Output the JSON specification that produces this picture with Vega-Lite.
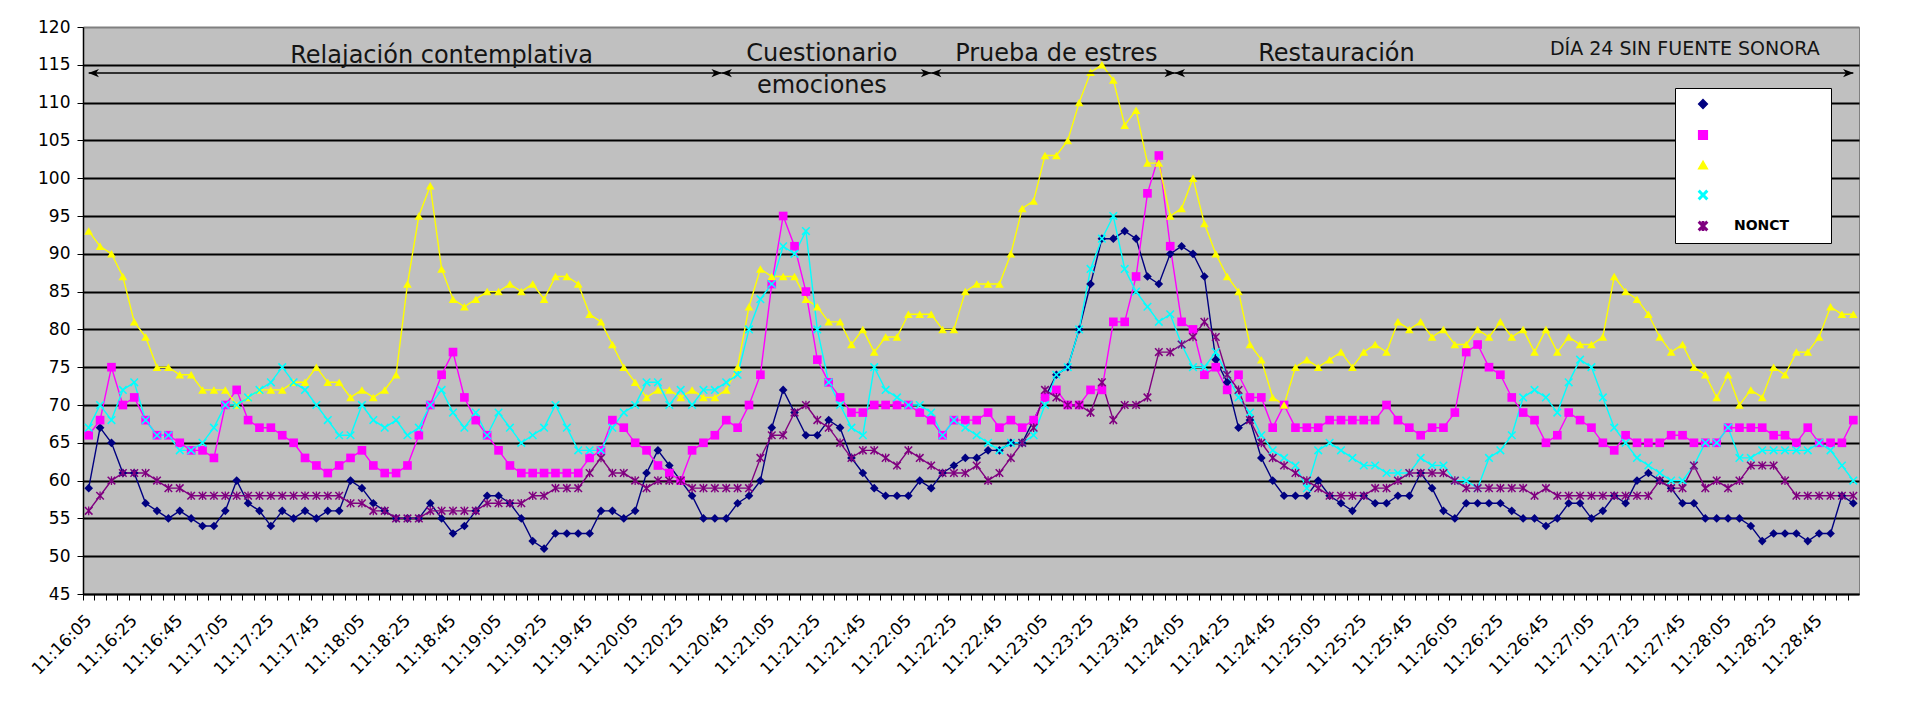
{
  "$schema": "https://vega.github.io/schema/vega-lite/v6.json",
  "width": 1776,
  "height": 567,
  "autosize": {"type": "none"},
  "padding": {"left": 83, "top": 27, "right": 68, "bottom": 109},
  "background": "white",
  "config": {
    "font": "DejaVu Sans",
    "view": {"fill": "#C0C0C0", "stroke": "#808080", "strokeWidth": 1}
  },
  "layer": [
    {
      "data": {
        "format": {"parse": {"time": "date:'%H:%M:%S'"}},
        "values": [
          {"time":"11:16:05","Serie1":59,"Serie2":66,"Serie3":93,"Serie4":67,"NONCT":56},
          {"time":"11:16:10","Serie1":67,"Serie2":68,"Serie3":91,"Serie4":70,"NONCT":58},
          {"time":"11:16:15","Serie1":65,"Serie2":75,"Serie3":90,"Serie4":68,"NONCT":60},
          {"time":"11:16:20","Serie1":61,"Serie2":70,"Serie3":87,"Serie4":72,"NONCT":61},
          {"time":"11:16:25","Serie1":61,"Serie2":71,"Serie3":81,"Serie4":73,"NONCT":61},
          {"time":"11:16:30","Serie1":57,"Serie2":68,"Serie3":79,"Serie4":68,"NONCT":61},
          {"time":"11:16:35","Serie1":56,"Serie2":66,"Serie3":75,"Serie4":66,"NONCT":60},
          {"time":"11:16:40","Serie1":55,"Serie2":66,"Serie3":75,"Serie4":66,"NONCT":59},
          {"time":"11:16:45","Serie1":56,"Serie2":65,"Serie3":74,"Serie4":64,"NONCT":59},
          {"time":"11:16:50","Serie1":55,"Serie2":64,"Serie3":74,"Serie4":64,"NONCT":58},
          {"time":"11:16:55","Serie1":54,"Serie2":64,"Serie3":72,"Serie4":65,"NONCT":58},
          {"time":"11:17:00","Serie1":54,"Serie2":63,"Serie3":72,"Serie4":67,"NONCT":58},
          {"time":"11:17:05","Serie1":56,"Serie2":70,"Serie3":72,"Serie4":70,"NONCT":58},
          {"time":"11:17:10","Serie1":60,"Serie2":72,"Serie3":70,"Serie4":70,"NONCT":58},
          {"time":"11:17:15","Serie1":57,"Serie2":68,"Serie3":71,"Serie4":71,"NONCT":58},
          {"time":"11:17:20","Serie1":56,"Serie2":67,"Serie3":72,"Serie4":72,"NONCT":58},
          {"time":"11:17:25","Serie1":54,"Serie2":67,"Serie3":72,"Serie4":73,"NONCT":58},
          {"time":"11:17:30","Serie1":56,"Serie2":66,"Serie3":72,"Serie4":75,"NONCT":58},
          {"time":"11:17:35","Serie1":55,"Serie2":65,"Serie3":73,"Serie4":73,"NONCT":58},
          {"time":"11:17:40","Serie1":56,"Serie2":63,"Serie3":73,"Serie4":72,"NONCT":58},
          {"time":"11:17:45","Serie1":55,"Serie2":62,"Serie3":75,"Serie4":70,"NONCT":58},
          {"time":"11:17:50","Serie1":56,"Serie2":61,"Serie3":73,"Serie4":68,"NONCT":58},
          {"time":"11:17:55","Serie1":56,"Serie2":62,"Serie3":73,"Serie4":66,"NONCT":58},
          {"time":"11:18:00","Serie1":60,"Serie2":63,"Serie3":71,"Serie4":66,"NONCT":57},
          {"time":"11:18:05","Serie1":59,"Serie2":64,"Serie3":72,"Serie4":70,"NONCT":57},
          {"time":"11:18:10","Serie1":57,"Serie2":62,"Serie3":71,"Serie4":68,"NONCT":56},
          {"time":"11:18:15","Serie1":56,"Serie2":61,"Serie3":72,"Serie4":67,"NONCT":56},
          {"time":"11:18:20","Serie1":55,"Serie2":61,"Serie3":74,"Serie4":68,"NONCT":55},
          {"time":"11:18:25","Serie1":55,"Serie2":62,"Serie3":86,"Serie4":66,"NONCT":55},
          {"time":"11:18:30","Serie1":55,"Serie2":66,"Serie3":95,"Serie4":67,"NONCT":55},
          {"time":"11:18:35","Serie1":57,"Serie2":70,"Serie3":99,"Serie4":70,"NONCT":56},
          {"time":"11:18:40","Serie1":55,"Serie2":74,"Serie3":88,"Serie4":72,"NONCT":56},
          {"time":"11:18:45","Serie1":53,"Serie2":77,"Serie3":84,"Serie4":69,"NONCT":56},
          {"time":"11:18:50","Serie1":54,"Serie2":71,"Serie3":83,"Serie4":67,"NONCT":56},
          {"time":"11:18:55","Serie1":56,"Serie2":68,"Serie3":84,"Serie4":69,"NONCT":56},
          {"time":"11:19:00","Serie1":58,"Serie2":66,"Serie3":85,"Serie4":66,"NONCT":57},
          {"time":"11:19:05","Serie1":58,"Serie2":64,"Serie3":85,"Serie4":69,"NONCT":57},
          {"time":"11:19:10","Serie1":57,"Serie2":62,"Serie3":86,"Serie4":67,"NONCT":57},
          {"time":"11:19:15","Serie1":55,"Serie2":61,"Serie3":85,"Serie4":65,"NONCT":57},
          {"time":"11:19:20","Serie1":52,"Serie2":61,"Serie3":86,"Serie4":66,"NONCT":58},
          {"time":"11:19:25","Serie1":51,"Serie2":61,"Serie3":84,"Serie4":67,"NONCT":58},
          {"time":"11:19:30","Serie1":53,"Serie2":61,"Serie3":87,"Serie4":70,"NONCT":59},
          {"time":"11:19:35","Serie1":53,"Serie2":61,"Serie3":87,"Serie4":67,"NONCT":59},
          {"time":"11:19:40","Serie1":53,"Serie2":61,"Serie3":86,"Serie4":64,"NONCT":59},
          {"time":"11:19:45","Serie1":53,"Serie2":63,"Serie3":82,"Serie4":64,"NONCT":61},
          {"time":"11:19:50","Serie1":56,"Serie2":64,"Serie3":81,"Serie4":64,"NONCT":63},
          {"time":"11:19:55","Serie1":56,"Serie2":68,"Serie3":78,"Serie4":67,"NONCT":61},
          {"time":"11:20:00","Serie1":55,"Serie2":67,"Serie3":75,"Serie4":69,"NONCT":61},
          {"time":"11:20:05","Serie1":56,"Serie2":65,"Serie3":73,"Serie4":70,"NONCT":60},
          {"time":"11:20:10","Serie1":61,"Serie2":64,"Serie3":71,"Serie4":73,"NONCT":59},
          {"time":"11:20:15","Serie1":64,"Serie2":62,"Serie3":72,"Serie4":73,"NONCT":60},
          {"time":"11:20:20","Serie1":62,"Serie2":61,"Serie3":72,"Serie4":70,"NONCT":60},
          {"time":"11:20:25","Serie1":60,"Serie2":60,"Serie3":71,"Serie4":72,"NONCT":60},
          {"time":"11:20:30","Serie1":58,"Serie2":64,"Serie3":72,"Serie4":70,"NONCT":59},
          {"time":"11:20:35","Serie1":55,"Serie2":65,"Serie3":71,"Serie4":72,"NONCT":59},
          {"time":"11:20:40","Serie1":55,"Serie2":66,"Serie3":71,"Serie4":72,"NONCT":59},
          {"time":"11:20:45","Serie1":55,"Serie2":68,"Serie3":72,"Serie4":73,"NONCT":59},
          {"time":"11:20:50","Serie1":57,"Serie2":67,"Serie3":75,"Serie4":74,"NONCT":59},
          {"time":"11:20:55","Serie1":58,"Serie2":70,"Serie3":83,"Serie4":80,"NONCT":59},
          {"time":"11:21:00","Serie1":60,"Serie2":74,"Serie3":88,"Serie4":84,"NONCT":63},
          {"time":"11:21:05","Serie1":67,"Serie2":86,"Serie3":87,"Serie4":86,"NONCT":66},
          {"time":"11:21:10","Serie1":72,"Serie2":95,"Serie3":87,"Serie4":91,"NONCT":66},
          {"time":"11:21:15","Serie1":69,"Serie2":91,"Serie3":87,"Serie4":90,"NONCT":69},
          {"time":"11:21:20","Serie1":66,"Serie2":85,"Serie3":84,"Serie4":93,"NONCT":70},
          {"time":"11:21:25","Serie1":66,"Serie2":76,"Serie3":83,"Serie4":80,"NONCT":68},
          {"time":"11:21:30","Serie1":68,"Serie2":73,"Serie3":81,"Serie4":73,"NONCT":67},
          {"time":"11:21:35","Serie1":67,"Serie2":71,"Serie3":81,"Serie4":70,"NONCT":65},
          {"time":"11:21:40","Serie1":63,"Serie2":69,"Serie3":78,"Serie4":67,"NONCT":63},
          {"time":"11:21:45","Serie1":61,"Serie2":69,"Serie3":80,"Serie4":66,"NONCT":64},
          {"time":"11:21:50","Serie1":59,"Serie2":70,"Serie3":77,"Serie4":75,"NONCT":64},
          {"time":"11:21:55","Serie1":58,"Serie2":70,"Serie3":79,"Serie4":72,"NONCT":63},
          {"time":"11:22:00","Serie1":58,"Serie2":70,"Serie3":79,"Serie4":71,"NONCT":62},
          {"time":"11:22:05","Serie1":58,"Serie2":70,"Serie3":82,"Serie4":70,"NONCT":64},
          {"time":"11:22:10","Serie1":60,"Serie2":69,"Serie3":82,"Serie4":70,"NONCT":63},
          {"time":"11:22:15","Serie1":59,"Serie2":68,"Serie3":82,"Serie4":69,"NONCT":62},
          {"time":"11:22:20","Serie1":61,"Serie2":66,"Serie3":80,"Serie4":66,"NONCT":61},
          {"time":"11:22:25","Serie1":62,"Serie2":68,"Serie3":80,"Serie4":68,"NONCT":61},
          {"time":"11:22:30","Serie1":63,"Serie2":68,"Serie3":85,"Serie4":67,"NONCT":61},
          {"time":"11:22:35","Serie1":63,"Serie2":68,"Serie3":86,"Serie4":66,"NONCT":62},
          {"time":"11:22:40","Serie1":64,"Serie2":69,"Serie3":86,"Serie4":65,"NONCT":60},
          {"time":"11:22:45","Serie1":64,"Serie2":67,"Serie3":86,"Serie4":64,"NONCT":61},
          {"time":"11:22:50","Serie1":65,"Serie2":68,"Serie3":90,"Serie4":65,"NONCT":63},
          {"time":"11:22:55","Serie1":65,"Serie2":67,"Serie3":96,"Serie4":65,"NONCT":65},
          {"time":"11:23:00","Serie1":68,"Serie2":68,"Serie3":97,"Serie4":66,"NONCT":67},
          {"time":"11:23:05","Serie1":71,"Serie2":71,"Serie3":103,"Serie4":70,"NONCT":72},
          {"time":"11:23:10","Serie1":74,"Serie2":72,"Serie3":103,"Serie4":74,"NONCT":71},
          {"time":"11:23:15","Serie1":75,"Serie2":70,"Serie3":105,"Serie4":75,"NONCT":70},
          {"time":"11:23:20","Serie1":80,"Serie2":70,"Serie3":110,"Serie4":80,"NONCT":70},
          {"time":"11:23:25","Serie1":86,"Serie2":72,"Serie3":114,"Serie4":88,"NONCT":69},
          {"time":"11:23:30","Serie1":92,"Serie2":72,"Serie3":115,"Serie4":92,"NONCT":73},
          {"time":"11:23:35","Serie1":92,"Serie2":81,"Serie3":113,"Serie4":95,"NONCT":68},
          {"time":"11:23:40","Serie1":93,"Serie2":81,"Serie3":107,"Serie4":88,"NONCT":70},
          {"time":"11:23:45","Serie1":92,"Serie2":87,"Serie3":109,"Serie4":85,"NONCT":70},
          {"time":"11:23:50","Serie1":87,"Serie2":98,"Serie3":102,"Serie4":83,"NONCT":71},
          {"time":"11:23:55","Serie1":86,"Serie2":103,"Serie3":102,"Serie4":81,"NONCT":77},
          {"time":"11:24:00","Serie1":90,"Serie2":91,"Serie3":95,"Serie4":82,"NONCT":77},
          {"time":"11:24:05","Serie1":91,"Serie2":81,"Serie3":96,"Serie4":78,"NONCT":78},
          {"time":"11:24:10","Serie1":90,"Serie2":80,"Serie3":100,"Serie4":75,"NONCT":79},
          {"time":"11:24:15","Serie1":87,"Serie2":74,"Serie3":94,"Serie4":75,"NONCT":81},
          {"time":"11:24:20","Serie1":76,"Serie2":75,"Serie3":90,"Serie4":77,"NONCT":79},
          {"time":"11:24:25","Serie1":73,"Serie2":72,"Serie3":87,"Serie4":74,"NONCT":74},
          {"time":"11:24:30","Serie1":67,"Serie2":74,"Serie3":85,"Serie4":71,"NONCT":72},
          {"time":"11:24:35","Serie1":68,"Serie2":71,"Serie3":78,"Serie4":69,"NONCT":68},
          {"time":"11:24:40","Serie1":63,"Serie2":71,"Serie3":76,"Serie4":66,"NONCT":65},
          {"time":"11:24:45","Serie1":60,"Serie2":67,"Serie3":71,"Serie4":64,"NONCT":63},
          {"time":"11:24:50","Serie1":58,"Serie2":70,"Serie3":70,"Serie4":63,"NONCT":62},
          {"time":"11:24:55","Serie1":58,"Serie2":67,"Serie3":75,"Serie4":62,"NONCT":61},
          {"time":"11:25:00","Serie1":58,"Serie2":67,"Serie3":76,"Serie4":59,"NONCT":60},
          {"time":"11:25:05","Serie1":60,"Serie2":67,"Serie3":75,"Serie4":64,"NONCT":59},
          {"time":"11:25:10","Serie1":58,"Serie2":68,"Serie3":76,"Serie4":65,"NONCT":58},
          {"time":"11:25:15","Serie1":57,"Serie2":68,"Serie3":77,"Serie4":64,"NONCT":58},
          {"time":"11:25:20","Serie1":56,"Serie2":68,"Serie3":75,"Serie4":63,"NONCT":58},
          {"time":"11:25:25","Serie1":58,"Serie2":68,"Serie3":77,"Serie4":62,"NONCT":58},
          {"time":"11:25:30","Serie1":57,"Serie2":68,"Serie3":78,"Serie4":62,"NONCT":59},
          {"time":"11:25:35","Serie1":57,"Serie2":70,"Serie3":77,"Serie4":61,"NONCT":59},
          {"time":"11:25:40","Serie1":58,"Serie2":68,"Serie3":81,"Serie4":61,"NONCT":60},
          {"time":"11:25:45","Serie1":58,"Serie2":67,"Serie3":80,"Serie4":61,"NONCT":61},
          {"time":"11:25:50","Serie1":61,"Serie2":66,"Serie3":81,"Serie4":63,"NONCT":61},
          {"time":"11:25:55","Serie1":59,"Serie2":67,"Serie3":79,"Serie4":62,"NONCT":61},
          {"time":"11:26:00","Serie1":56,"Serie2":67,"Serie3":80,"Serie4":62,"NONCT":61},
          {"time":"11:26:05","Serie1":55,"Serie2":69,"Serie3":78,"Serie4":60,"NONCT":60},
          {"time":"11:26:10","Serie1":57,"Serie2":77,"Serie3":78,"Serie4":60,"NONCT":59},
          {"time":"11:26:15","Serie1":57,"Serie2":78,"Serie3":80,"Serie4":59,"NONCT":59},
          {"time":"11:26:20","Serie1":57,"Serie2":75,"Serie3":79,"Serie4":63,"NONCT":59},
          {"time":"11:26:25","Serie1":57,"Serie2":74,"Serie3":81,"Serie4":64,"NONCT":59},
          {"time":"11:26:30","Serie1":56,"Serie2":71,"Serie3":79,"Serie4":66,"NONCT":59},
          {"time":"11:26:35","Serie1":55,"Serie2":69,"Serie3":80,"Serie4":71,"NONCT":59},
          {"time":"11:26:40","Serie1":55,"Serie2":68,"Serie3":77,"Serie4":72,"NONCT":58},
          {"time":"11:26:45","Serie1":54,"Serie2":65,"Serie3":80,"Serie4":71,"NONCT":59},
          {"time":"11:26:50","Serie1":55,"Serie2":66,"Serie3":77,"Serie4":69,"NONCT":58},
          {"time":"11:26:55","Serie1":57,"Serie2":69,"Serie3":79,"Serie4":73,"NONCT":58},
          {"time":"11:27:00","Serie1":57,"Serie2":68,"Serie3":78,"Serie4":76,"NONCT":58},
          {"time":"11:27:05","Serie1":55,"Serie2":67,"Serie3":78,"Serie4":75,"NONCT":58},
          {"time":"11:27:10","Serie1":56,"Serie2":65,"Serie3":79,"Serie4":71,"NONCT":58},
          {"time":"11:27:15","Serie1":58,"Serie2":64,"Serie3":87,"Serie4":67,"NONCT":58},
          {"time":"11:27:20","Serie1":57,"Serie2":66,"Serie3":85,"Serie4":65,"NONCT":58},
          {"time":"11:27:25","Serie1":60,"Serie2":65,"Serie3":84,"Serie4":63,"NONCT":58},
          {"time":"11:27:30","Serie1":61,"Serie2":65,"Serie3":82,"Serie4":62,"NONCT":58},
          {"time":"11:27:35","Serie1":60,"Serie2":65,"Serie3":79,"Serie4":61,"NONCT":60},
          {"time":"11:27:40","Serie1":59,"Serie2":66,"Serie3":77,"Serie4":60,"NONCT":59},
          {"time":"11:27:45","Serie1":57,"Serie2":66,"Serie3":78,"Serie4":60,"NONCT":59},
          {"time":"11:27:50","Serie1":57,"Serie2":65,"Serie3":75,"Serie4":62,"NONCT":62},
          {"time":"11:27:55","Serie1":55,"Serie2":65,"Serie3":74,"Serie4":65,"NONCT":59},
          {"time":"11:28:00","Serie1":55,"Serie2":65,"Serie3":71,"Serie4":65,"NONCT":60},
          {"time":"11:28:05","Serie1":55,"Serie2":67,"Serie3":74,"Serie4":67,"NONCT":59},
          {"time":"11:28:10","Serie1":55,"Serie2":67,"Serie3":70,"Serie4":63,"NONCT":60},
          {"time":"11:28:15","Serie1":54,"Serie2":67,"Serie3":72,"Serie4":63,"NONCT":62},
          {"time":"11:28:20","Serie1":52,"Serie2":67,"Serie3":71,"Serie4":64,"NONCT":62},
          {"time":"11:28:25","Serie1":53,"Serie2":66,"Serie3":75,"Serie4":64,"NONCT":62},
          {"time":"11:28:30","Serie1":53,"Serie2":66,"Serie3":74,"Serie4":64,"NONCT":60},
          {"time":"11:28:35","Serie1":53,"Serie2":65,"Serie3":77,"Serie4":64,"NONCT":58},
          {"time":"11:28:40","Serie1":52,"Serie2":67,"Serie3":77,"Serie4":64,"NONCT":58},
          {"time":"11:28:45","Serie1":53,"Serie2":65,"Serie3":79,"Serie4":65,"NONCT":58},
          {"time":"11:28:50","Serie1":53,"Serie2":65,"Serie3":83,"Serie4":64,"NONCT":58},
          {"time":"11:28:55","Serie1":58,"Serie2":65,"Serie3":82,"Serie4":62,"NONCT":58},
          {"time":"11:29:00","Serie1":57,"Serie2":68,"Serie3":82,"Serie4":60,"NONCT":58}
        ]
      },
      "transform": [{"fold": ["Serie1", "Serie2", "Serie3", "Serie4", "NONCT"], "as": ["serie", "bpm"]}],
      "encoding": {
        "x": {
          "field": "time",
          "type": "temporal",
          "title": null,
          "scale": {"nice": false, "padding": 5.7},
          "axis": {
            "title": null,
            "grid": false,
            "tickCount": 160,
            "labelExpr": "seconds(datum.value) % 20 == 5 ? timeFormat(datum.value, '%H:%M:%S') : ''",
            "labelAngle": -45,
            "labelOverlap": false,
            "labelFlush": false,
            "labelBound": false,
            "tickSize": 6,
            "tickColor": "black",
            "tickOffset": -5.69,
            "domainColor": "black",
            "domainWidth": 1.5,
            "labelFont": "DejaVu Sans",
            "labelFontSize": 17,
            "labelColor": "black",
            "labelPadding": 12
          }
        },
        "y": {
          "field": "bpm",
          "type": "quantitative",
          "title": null,
          "scale": {"domain": [45, 120], "nice": false, "zero": false},
          "axis": {
            "title": null,
            "values": [45, 50, 55, 60, 65, 70, 75, 80, 85, 90, 95, 100, 105, 110, 115, 120],
            "tickCount": 30,
            "labelOverlap": false,
            "grid": true,
            "gridColor": {"condition": {"test": "datum.value >= 120", "value": "#808080"}, "value": "black"},
            "gridWidth": 2,
            "tickSize": 6,
            "tickColor": "black",
            "domainColor": "black",
            "domainWidth": 1.5,
            "labelFont": "DejaVu Sans",
            "labelFontSize": 17,
            "labelColor": "black",
            "labelPadding": 7
          }
        },
        "color": {
          "field": "serie",
          "type": "nominal",
          "title": null,
          "scale": {
            "domain": ["Serie1", "Serie2", "Serie3", "Serie4", "NONCT"],
            "range": ["#000080", "#FF00FF", "#FFFF00", "#00FFFF", "#800080"]
          },
          "legend": {
            "orient": "none",
            "legendX": 1592,
            "legendY": 61,
            "title": null,
            "fillColor": "white",
            "strokeColor": "black",
            "padding": 9,
            "rowPadding": 15,
            "symbolSize": 75,
            "symbolOffset": 12,
            "labelOffset": 24,
            "labelFont": "DejaVu Sans",
            "labelFontSize": 14,
            "labelFontWeight": "bold",
            "labelColor": "black",
            "labelExpr": "datum.label == 'NONCT' ? 'NONCT\u2800\u2800\u2800' : ''"
          }
        }
      },
      "layer": [
        {"mark": {"type": "line", "strokeWidth": 1.4}},
        {
          "mark": {"type": "point", "filled": true, "size": 75, "opacity": 1},
          "encoding": {
            "shape": {
              "field": "serie",
              "type": "nominal",
              "title": null,
              "scale": {
                "domain": ["Serie1", "Serie2", "Serie3", "Serie4", "NONCT"],
                "range": [
                  "diamond",
                  "square",
                  "triangle-up",
                  "M-1,-0.75L-0.75,-1L0,-0.25L0.75,-1L1,-0.75L0.25,0L1,0.75L0.75,1L0,0.25L-0.75,1L-1,0.75L-0.25,0Z",
                  "M-1,-0.75L-0.75,-1L0,-0.25L0.75,-1L1,-0.75L0.25,0L1,0.75L0.75,1L0,0.25L-0.75,1L-1,0.75L-0.25,0ZM-0.15,-1L0.15,-1L0.15,1L-0.15,1Z"
                ]
              }
            }
          }
        }
      ]
    },
    {
      "data": {
        "format": {"parse": {"time": "date:'%H:%M:%S'"}},
        "values": [
          {"texto": "Relajación contemplativa", "time": "11:18:40", "nivel": 115.3},
          {"texto": "Cuestionario", "time": "11:21:27", "nivel": 115.5},
          {"texto": "emociones", "time": "11:21:27", "nivel": 111.3},
          {"texto": "Prueba de estres", "time": "11:23:10", "nivel": 115.5},
          {"texto": "Restauración", "time": "11:25:13", "nivel": 115.5}
        ]
      },
      "mark": {"type": "text", "font": "DejaVu Sans", "fontSize": 24, "baseline": "alphabetic", "align": "center", "color": "#141414"},
      "encoding": {
        "x": {"field": "time", "type": "temporal", "title": null},
        "y": {"field": "nivel", "type": "quantitative", "title": null},
        "text": {"field": "texto"}
      }
    },
    {
      "data": {
        "format": {"parse": {"time": "date:'%H:%M:%S'"}},
        "values": [{"texto": "DÍA 24 SIN FUENTE SONORA", "time": "11:27:46", "nivel": 116.3}]
      },
      "mark": {"type": "text", "font": "DejaVu Sans", "fontSize": 19, "baseline": "alphabetic", "align": "center", "color": "#141414"},
      "encoding": {
        "x": {"field": "time", "type": "temporal", "title": null},
        "y": {"field": "nivel", "type": "quantitative", "title": null},
        "text": {"field": "texto"}
      }
    },
    {
      "data": {
        "format": {"parse": {"inicio": "date:'%H:%M:%S'", "fin": "date:'%H:%M:%S'"}},
        "values": [
          {"inicio": "11:16:05", "fin": "11:20:43"},
          {"inicio": "11:20:43", "fin": "11:22:15"},
          {"inicio": "11:22:15", "fin": "11:24:02"},
          {"inicio": "11:24:02", "fin": "11:29:00"}
        ]
      },
      "layer": [
        {
          "mark": {"type": "rule", "color": "black", "strokeWidth": 1.5},
          "encoding": {
            "x": {"field": "inicio", "type": "temporal", "title": null},
            "x2": {"field": "fin"},
            "y": {"datum": 113.9, "type": "quantitative", "title": null}
          }
        },
        {
          "mark": {"type": "point", "shape": "M1,0L-1,-0.8L-0.45,0L-1,0.8Z", "filled": true, "color": "black", "size": 110, "opacity": 1, "xOffset": -5},
          "encoding": {
            "x": {"field": "fin", "type": "temporal", "title": null},
            "y": {"datum": 113.9, "type": "quantitative", "title": null}
          }
        },
        {
          "mark": {"type": "point", "shape": "M-1,0L1,-0.8L0.45,0L1,0.8Z", "filled": true, "color": "black", "size": 110, "opacity": 1, "xOffset": 5},
          "encoding": {
            "x": {"field": "inicio", "type": "temporal", "title": null},
            "y": {"datum": 113.9, "type": "quantitative", "title": null}
          }
        }
      ]
    }
  ]
}
